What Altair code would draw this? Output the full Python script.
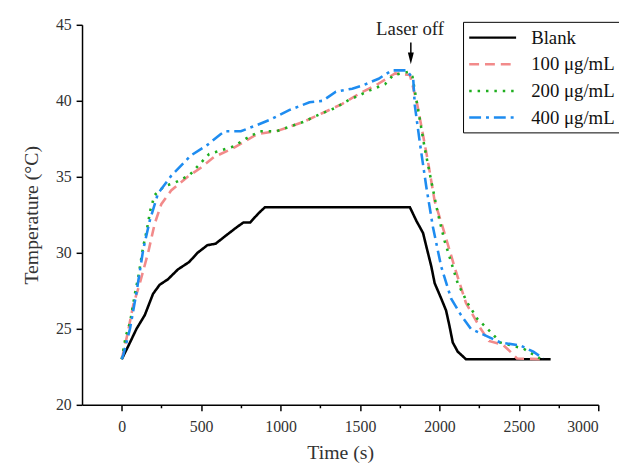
import altair as alt
import pandas as pd

series_names = ["Blank", "100 μg/mL", "200 μg/mL", "400 μg/mL"]
series_colors = ["#000000", "#F28A8A", "#1FAE1F", "#1E8CF0"]
series_dashes = [[1, 0], [10, 6], [2.5, 6], [12, 5, 3, 5]]

blank_t = [0, 52, 93, 145, 197, 239, 290, 353, 425, 477, 539, 591, 664, 726, 767, 809, 861, 902,
           1814, 1855, 1897, 1918, 1949, 1970, 2011, 2042, 2063, 2084, 2115, 2167, 2700]
blank_T = [23.0, 24.1, 25.0, 25.9, 27.3, 27.9, 28.25, 28.9, 29.4, 30.0, 30.5, 30.6, 31.2, 31.7, 32.0, 32.0, 32.6, 33.0,
           33.0, 32.1, 31.3, 30.4, 29.1, 28.0, 27.0, 26.2, 25.2, 24.1, 23.5, 23.0, 23.0]

c100_t = [0, 35, 73, 114, 166, 207, 249, 311, 415, 498, 581, 705, 850, 974, 1141, 1265, 1389, 1500, 1596, 1721,
          1814, 1856, 1876, 1928, 1970, 2032, 2094, 2167, 2260, 2311, 2400, 2446, 2488, 2650]
c100_T = [23.0, 24.6, 26.6, 28.0, 30.0, 31.9, 33.2, 34.1, 35.0, 35.6, 36.3, 36.9, 37.8, 38.0, 38.6, 39.2, 39.8, 40.5, 41.0, 41.8,
          41.7, 40.0, 38.9, 36.0, 33.4, 31.3, 29.1, 26.7, 25.0, 24.2, 23.95, 23.5, 23.05, 23.0]

c200_t = [0, 25, 52, 83, 104, 135, 156, 180, 207, 270, 332, 425, 470, 550, 705, 788, 871, 974, 1141, 1244, 1337, 1430,
          1565, 1658, 1710, 1803, 1830, 1856, 1876, 1907, 1949, 1990, 2032, 2115, 2177, 2239, 2322, 2384, 2529, 2633]
c200_T = [23.0, 24.5, 25.4, 27.3, 28.4, 30.4, 31.4, 32.8, 33.8, 34.4, 34.6, 35.1, 35.6, 36.5, 37.0, 37.55, 38.0, 38.0, 38.6, 39.1, 39.5, 40.05,
          40.7, 41.1, 41.7, 41.9, 41.6, 40.0, 38.8, 36.9, 34.7, 32.6, 30.8, 28.0, 26.7, 25.65, 24.8, 24.1, 23.7, 23.05]

c400_t = [0, 10, 52, 93, 135, 176, 228, 311, 435, 539, 622, 650, 750, 850, 933, 1057, 1182, 1265, 1348, 1451, 1514, 1617,
          1700, 1793, 1835, 1845, 1876, 1918, 1959, 2011, 2073, 2136, 2198, 2281, 2384, 2509, 2591, 2653]
c400_T = [23.0, 23.3, 25.0, 27.4, 30.2, 32.1, 33.9, 35.06, 36.4, 37.1, 37.8, 38.0, 38.0, 38.4, 38.75, 39.4, 39.9, 40.0, 40.6, 40.8, 41.0, 41.45,
          42.0, 42.0, 41.45, 39.7, 37.3, 34.3, 31.7, 29.1, 27.0, 25.9, 25.0, 24.6, 24.1, 23.9, 23.5, 23.05]

x_ticks = list(range(0, 3001, 250))
y_ticks = [20 + 2.5 * i for i in range(11)]

annot_text = ["Laser off"]
annot_x = [1815]
annot_text_y = [44.35]
arrow_x = [1820]
arrow_top = [43.83]
arrow_bottom = [43.0]
arrow_head_y = [42.79]

rows = []
for name, ts, Ts in zip(series_names, [blank_t, c100_t, c200_t, c400_t], [blank_T, c100_T, c200_T, c400_T]):
    for i, (t, T) in enumerate(zip(ts, Ts)):
        rows.append({"series": name, "t": t, "T": T, "order": i})
df = pd.DataFrame(rows)

FONT = "Liberation Serif"

x_enc = alt.X("t:Q", scale=alt.Scale(domain=[-250, 3000], nice=False, zero=False),
              axis=alt.Axis(title="Time (s)", values=x_ticks, format="d",
                            labelExpr="datum.value % 500 === 0 ? datum.value : ''",
                            tickSize={"condition": {"test": "datum.value % 500 === 0", "value": 6}, "value": 3},
                            labelPadding=8, titlePadding=8))
y_enc = alt.Y("T:Q", scale=alt.Scale(domain=[20, 45], nice=False, zero=False),
              axis=alt.Axis(title="Temperature (°C)", values=y_ticks,
                            labelExpr="datum.value % 5 === 0 ? datum.value : ''",
                            tickSize={"condition": {"test": "datum.value % 5 === 0", "value": 6}, "value": 3},
                            labelPadding=5, titlePadding=14))

legend_props = dict(title=None, orient="none", legendX=386, legendY=-3, strokeColor="#000",
                    padding=5, rowPadding=6, symbolType="M -2.5 0 L 2.5 0", symbolSize=361,
                    symbolStrokeWidth=2.5, symbolOffset=14, labelFont=FONT, labelFontSize=19,
                    labelColor="#111", labelOffset=28, fillColor="white")

lines = alt.Chart(df).mark_line(strokeWidth=2.6).encode(
    x=x_enc,
    y=y_enc,
    order="order:Q",
    color=alt.Color("series:N", scale=alt.Scale(domain=series_names, range=series_colors),
                    legend=alt.Legend(**legend_props)),
    strokeDash=alt.StrokeDash("series:N", scale=alt.Scale(domain=series_names, range=series_dashes),
                              legend=alt.Legend(**legend_props)),
)

adf = pd.DataFrame({"text": annot_text, "x": annot_x, "ty": annot_text_y, "ax": arrow_x,
                    "a1": arrow_top, "a2": arrow_bottom, "ah": arrow_head_y})

text = alt.Chart(adf).mark_text(font=FONT, fontSize=19, color="#222", baseline="alphabetic", align="center").encode(
    x="x:Q", y="ty:Q", text="text:N")
rule = alt.Chart(adf).mark_rule(color="black", strokeWidth=1.5).encode(x="ax:Q", y="a1:Q", y2="a2:Q")
head = alt.Chart(adf).mark_point(shape="M -0.5 -1 L 0.5 -1 L 0 1 Z", size=144, filled=True,
                                 color="black", opacity=1).encode(x="ax:Q", y="ah:Q")

chart = alt.layer(lines, rule, head, text).properties(
    width=523, height=385,
    background="white",
    autosize=alt.AutoSizeParams(type="none"),
    padding={"left": 75, "top": 14, "right": 21, "bottom": 62},
).configure_view(stroke=None).configure_axis(
    grid=False, domainColor="black", domainWidth=1.5, tickColor="black", tickWidth=1.5,
    labelFont=FONT, labelFontSize=16, labelColor="#333",
    titleFont=FONT, titleFontSize=20, titleFontWeight="normal", titleColor="#333",
)

chart.save("out.html", embed_options={"renderer": "svg", "actions": False})
